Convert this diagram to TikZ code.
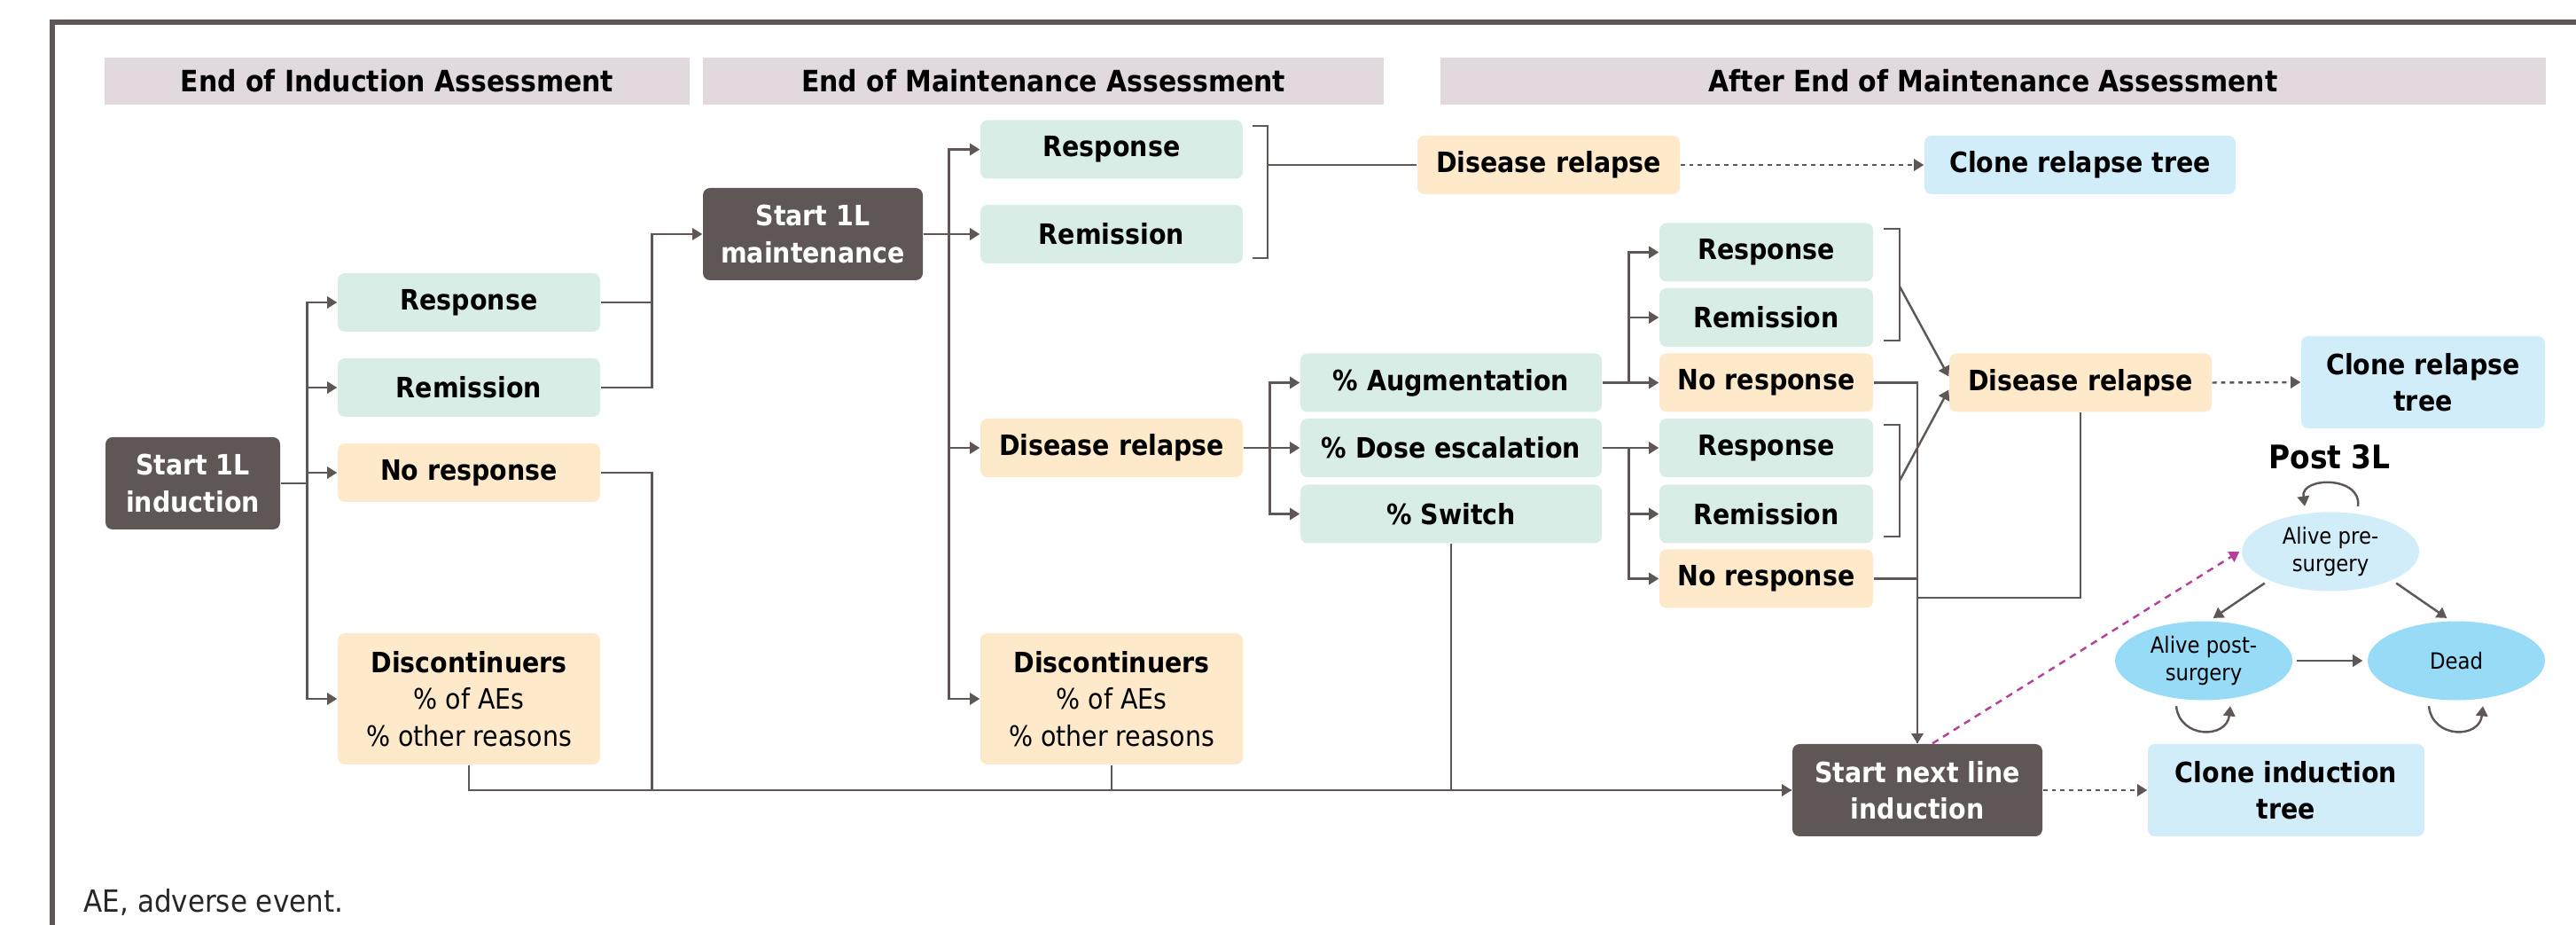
\documentclass[tikz,border=0pt]{standalone}
\usepackage{fontspec}
\setmainfont{DejaVuSansCondensed}[Extension=.ttf, BoldFont=DejaVuSansCondensed-Bold]
\usepackage{tikz}
\usetikzlibrary{
    positioning,
    arrows.meta,
    calc,
    shapes.geometric
}

\definecolor{darkbox}{HTML}{5E5756}
\definecolor{hdrgrey}{HTML}{E1D9DE}
\definecolor{mintbox}{HTML}{D8EDE5}
\definecolor{peachbox}{HTML}{FEEACB}
\definecolor{skybox}{HTML}{D2EDFA}
\definecolor{skydeep}{HTML}{97DBF7}
\definecolor{pinkline}{HTML}{B6409C}

\newcommand{\boxfont}{\fontsize{9.0}{11.8}\selectfont}

\begin{document}
\begin{tikzpicture}[
    box/.style={rounded corners=0.08cm, align=center, inner sep=0pt, font=\boxfont\bfseries, minimum height=0.66cm},
    mint/.style={box, fill=mintbox},
    peach/.style={box, fill=peachbox},
    sky/.style={box, fill=skybox},
    darkb/.style={box, fill=darkbox, text=white, minimum height=1.04cm},
    hdr/.style={fill=hdrgrey, inner sep=0pt, minimum height=0.53cm, font=\fontsize{9.45}{11}\selectfont\bfseries},
    state/.style={ellipse, inner sep=0pt, minimum width=2cm, minimum height=0.89cm, align=center, font=\fontsize{7.2}{8.6}\selectfont},
    conn/.style={draw=darkbox, line width=0.7pt},
    arr/.style={conn, -{Triangle[length=3.2pt,width=3.8pt]}},
    dots/.style={arr, dash pattern=on 1.4pt off 1.4pt},
    pinkdash/.style={draw=pinkline, line width=0.7pt, dash pattern=on 2.2pt off 1.8pt, -{Triangle[length=3.2pt,width=3.8pt]}}
]
    \useasboundingbox (0,0) rectangle (29.06,-10.43);
    % frame
    \draw[darkbox, line width=1.8pt] (0.56,-0.25) -- (29.06,-0.25);
    \draw[darkbox, line width=1.7pt] (0.59,-0.25) -- (0.59,-10.43);

    % headers
    \node[hdr, minimum width=6.60cm] (hdrind) at (4.48,-0.915) {End of Induction Assessment};
    \node[hdr, minimum width=7.68cm] (hdrmaint) at (11.77,-0.915) {End of Maintenance Assessment};
    \node[hdr, minimum width=12.47cm] (hdrafter) at (22.485,-0.915) {After End of Maintenance Assessment};

    % induction
    \node[darkb, minimum width=1.97cm] (ind) at (2.175,-5.45) {Start 1L\\induction};
    \node[mint, minimum width=2.96cm] (resp1) at (5.29,-3.41) {Response};
    \node[mint, minimum width=2.96cm] (rem1) at (5.29,-4.37) {Remission};
    \node[peach, minimum width=2.96cm] (nor1) at (5.29,-5.33) {No response};
    \node[peach, minimum width=2.96cm, minimum height=1.48cm] (disc1) at (5.29,-7.88) {Discontinuers\\{\mdseries\% of AEs}\\{\mdseries\% other reasons}};

    % maintenance
    \node[darkb, minimum width=2.48cm] (maint) at (9.17,-2.64) {Start 1L\\maintenance};
    \node[mint, minimum width=2.96cm] (resp2) at (12.54,-1.685) {Response};
    \node[mint, minimum width=2.96cm] (rem2) at (12.54,-2.64) {Remission};
    \node[peach, minimum width=2.96cm] (rel2) at (12.54,-5.05) {Disease relapse};
    \node[peach, minimum width=2.96cm, minimum height=1.48cm] (disc2) at (12.54,-7.88) {Discontinuers\\{\mdseries\% of AEs}\\{\mdseries\% other reasons}};

    \node[peach, minimum width=2.96cm] (relA) at (17.47,-1.86) {Disease relapse};
    \node[sky, minimum width=3.51cm] (clone1) at (23.465,-1.86) {Clone relapse tree};

    % after maintenance
    \node[mint, minimum width=3.40cm] (aug) at (16.37,-4.315) {\% Augmentation};
    \node[mint, minimum width=3.40cm] (dose) at (16.37,-5.05) {\% Dose escalation};
    \node[mint, minimum width=3.40cm] (swi) at (16.37,-5.795) {\% Switch};

    \node[mint, minimum width=2.41cm] (respA) at (19.925,-2.845) {Response};
    \node[mint, minimum width=2.41cm] (remA) at (19.925,-3.58) {Remission};
    \node[peach, minimum width=2.41cm] (norA) at (19.925,-4.315) {No response};
    \node[mint, minimum width=2.41cm] (respB) at (19.925,-5.05) {Response};
    \node[mint, minimum width=2.41cm] (remB) at (19.925,-5.795) {Remission};
    \node[peach, minimum width=2.41cm] (norB) at (19.925,-6.525) {No response};

    \node[peach, minimum width=2.96cm] (relB) at (23.47,-4.315) {Disease relapse};
    \node[sky, minimum width=2.75cm, minimum height=1.04cm] (clone2) at (27.335,-4.31) {Clone relapse\\tree};

    \node[darkb, minimum width=2.82cm] (next) at (21.63,-8.91) {Start next line\\induction};
    \node[sky, minimum width=3.12cm, minimum height=1.04cm] (clone3) at (25.79,-8.91) {Clone induction\\tree};

    % post 3L states
    \node[font=\fontsize{10.4}{12}\selectfont\bfseries] (post3l) at (26.28,-5.15) {Post 3L};
    \node[state, fill=skybox] (pre) at (26.29,-6.22) {Alive pre-\\surgery};
    \node[state, fill=skydeep] (post) at (24.86,-7.45) {Alive post-\\surgery};
    \node[state, fill=skydeep] (dead) at (27.71,-7.45) {Dead};

    \node[anchor=west, inner sep=0pt, text=black!85, font=\fontsize{9.8}{11}\selectfont] (note) at (0.94,-10.17) {AE, adverse event.};

    % connectors: induction
    \foreach \t in {resp1,rem1,nor1,disc1}
        \draw[arr] (ind.east) -- ++(0.30,0) |- (\t.west);
    \draw[conn] (resp1.east) -- ++(0.58,0);
    \draw[arr] (rem1.east) -- ++(0.58,0) |- (maint.west);
    \draw[conn] (nor1.east) -- ++(0.58,0) |- (next.west);
    \draw[arr] (disc1.south) |- (next.west);

    % connectors: maintenance
    \foreach \t in {resp2,rem2,rel2,disc2}
        \draw[arr] (maint.east) -- ++(0.29,0) |- (\t.west);
    \draw[conn] (disc2.south) |- (next.west);
    \draw[conn] (14.13,-1.42) -- (14.30,-1.42) -- (14.30,-2.91) -- (14.13,-2.91);
    \coordinate (b1) at (14.30,-1.86);
    \draw[conn] (b1) -- (relA.west);
    \draw[dots] (relA.east) -- (clone1.west);

    \foreach \t in {aug,dose,swi}
        \draw[arr] (rel2.east) -- ++(0.30,0) |- (\t.west);
    \draw[conn] (swi.south) |- (next.west);

    \foreach \t in {respA,remA,norA}
        \draw[arr] (aug.east) -- ++(0.30,0) |- (\t.west);
    \foreach \t in {respB,remB,norB}
        \draw[arr] (dose.east) -- ++(0.30,0) |- (\t.west);

    % brackets to relapse
    \draw[conn] (21.25,-2.58) -- (21.43,-2.58) -- (21.43,-3.84) -- (21.25,-3.84);
    \draw[conn] (21.25,-4.79) -- (21.43,-4.79) -- (21.43,-6.05) -- (21.25,-6.05);
    \coordinate (bA) at (21.43,-3.23);
    \coordinate (bB) at (21.43,-5.42);
    \draw[arr] (bA) -- ($(relB.west)+(0,0.07)$);
    \draw[arr] (bB) -- ($(relB.west)+(0,-0.08)$);
    \draw[dots] (relB.east) -- (clone2.west);

    \draw[arr] (norA.east) -| (next.north);
    \draw[conn] (norB.east) -| (next.north);
    \coordinate (jn) at (21.63,-6.74);
    \draw[conn] (relB.south) |- (jn);
    \draw[dots] (next.east) -- (clone3.west);
    \draw[pinkdash] ($(next.north)+(0.17,0)$) -- ($(pre.west)+(-0.02,0)$);

    % state arrows
    \draw[arr, shorten <=1.5pt, shorten >=1.5pt] (pre.205) -- (post.82);
    \draw[arr, shorten <=1.5pt, shorten >=1.5pt] (pre.-25) -- (dead.98);
    \draw[arr, shorten <=1.2pt, shorten >=1.4pt] (post.east) -- (dead.west);
    \draw[arr] ($(pre.north)+(0.31,0.06)$) .. controls +(0.05,0.34) and +(-0.05,0.34) .. ($(pre.north)+(-0.29,0.06)$);
    \draw[arr] ($(post.south)+(-0.31,-0.06)$) .. controls +(0.04,-0.37) and +(-0.04,-0.37) .. ($(post.south)+(0.30,-0.06)$);
    \draw[arr] ($(dead.south)+(-0.31,-0.06)$) .. controls +(0.04,-0.37) and +(-0.04,-0.37) .. ($(dead.south)+(0.30,-0.06)$);
\end{tikzpicture}
\end{document}
